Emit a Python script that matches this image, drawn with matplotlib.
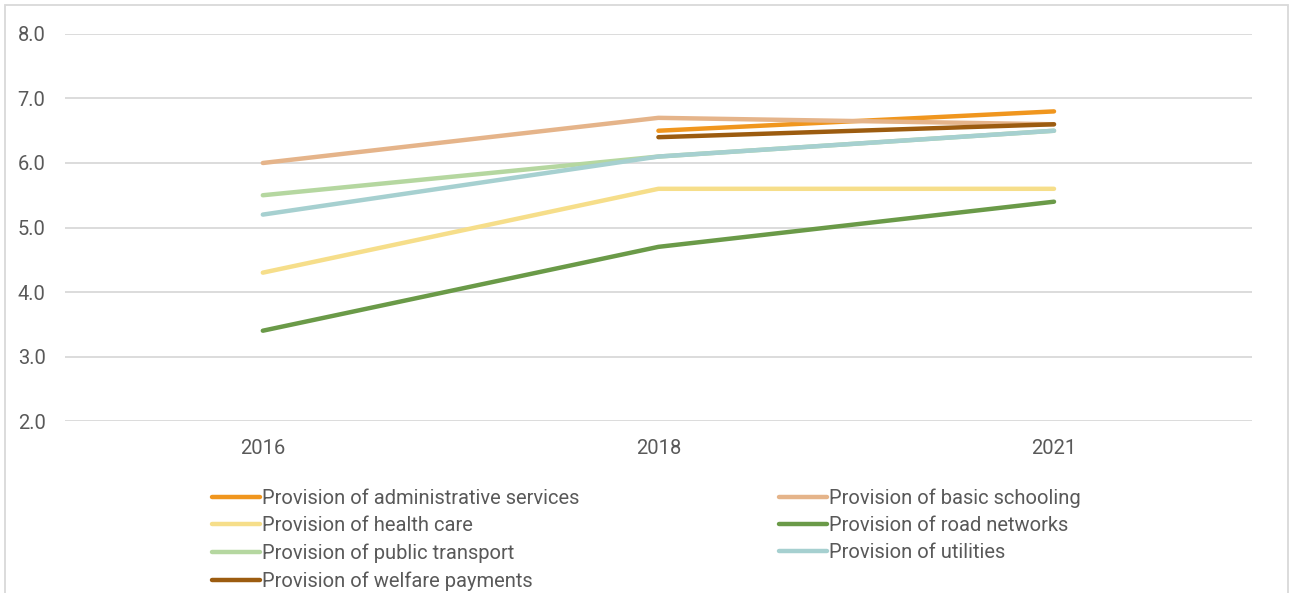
import matplotlib
matplotlib.use('Agg')
import matplotlib.pyplot as plt
from matplotlib.patches import Rectangle

plt.rcParams['font.family'] = ['Roboto', 'DejaVu Sans']

years = ["2016", "2018", "2021"]

admin = [None, 6.5, 6.8]
schooling = [6.0, 6.7, 6.6]
health = [4.3, 5.6, 5.6]
roads = [3.4, 4.7, 5.4]
transport = [5.5, 6.1, 6.5]
utilities = [5.2, 6.1, 6.5]
welfare = [None, 6.4, 6.6]

series = [
    ("Provision of administrative services", admin, "#F0961E"),
    ("Provision of basic schooling", schooling, "#E5B48A"),
    ("Provision of health care", health, "#F6DE8A"),
    ("Provision of road networks", roads, "#6A9A48"),
    ("Provision of public transport", transport, "#B5D7A0"),
    ("Provision of utilities", utilities, "#A6D0D0"),
    ("Provision of welfare payments", welfare, "#9C5C10"),
]

TEXT = "#595959"
GRID = "#D9D9D9"
FS = 14.5

fig = plt.figure(figsize=(12.9, 5.93), dpi=100)
ax = fig.add_axes([0.0504, 0.290, 0.920, 0.6527])

handles = {}
for name, vals, color in series:
    xs = [i for i, v in enumerate(vals) if v is not None]
    ys = [v for v in vals if v is not None]
    ln, = ax.plot(xs, ys, color=color, lw=3.2, solid_capstyle='round', label=name)
    handles[name] = ln

ax.set_xlim(-0.5, 2.5)
ax.set_ylim(2.0, 8.0)
ax.set_yticks([2, 3, 4, 5, 6, 7, 8])
ax.set_yticklabels([f"{v:.1f}" for v in [2, 3, 4, 5, 6, 7, 8]])
ax.set_xticks(range(len(years)))
ax.set_xticklabels(years)
ax.tick_params(length=0, colors=TEXT, labelsize=FS)
ax.tick_params(axis='x', pad=13)
ax.tick_params(axis='y', pad=14)
ax.grid(axis='y', color=GRID, lw=1.3)
ax.set_axisbelow(True)
for s in ax.spines.values():
    s.set_visible(False)

# legend column-first order so that rows read like the reference
order = [0, 2, 4, 6, 1, 3, 5]
hs = [handles[series[i][0]] for i in order]
ls = [series[i][0] for i in order]
leg = fig.legend(hs, ls, ncol=2, loc='upper left', bbox_to_anchor=(0.1643, 0.177),
                 frameon=False, fontsize=FS, labelcolor=TEXT, handlelength=2.38,
                 handletextpad=0.1, columnspacing=9.9, labelspacing=0.42,
                 borderaxespad=0, borderpad=0)
for l in leg.get_lines():
    l.set_linewidth(3.2)

fig.add_artist(Rectangle((5 / 1290, -0.02), 1283 / 1290, 1.02 - 5 / 593,
                         transform=fig.transFigure, fill=False, ec=GRID, lw=1.3))

fig.savefig("out.png", dpi=100)
